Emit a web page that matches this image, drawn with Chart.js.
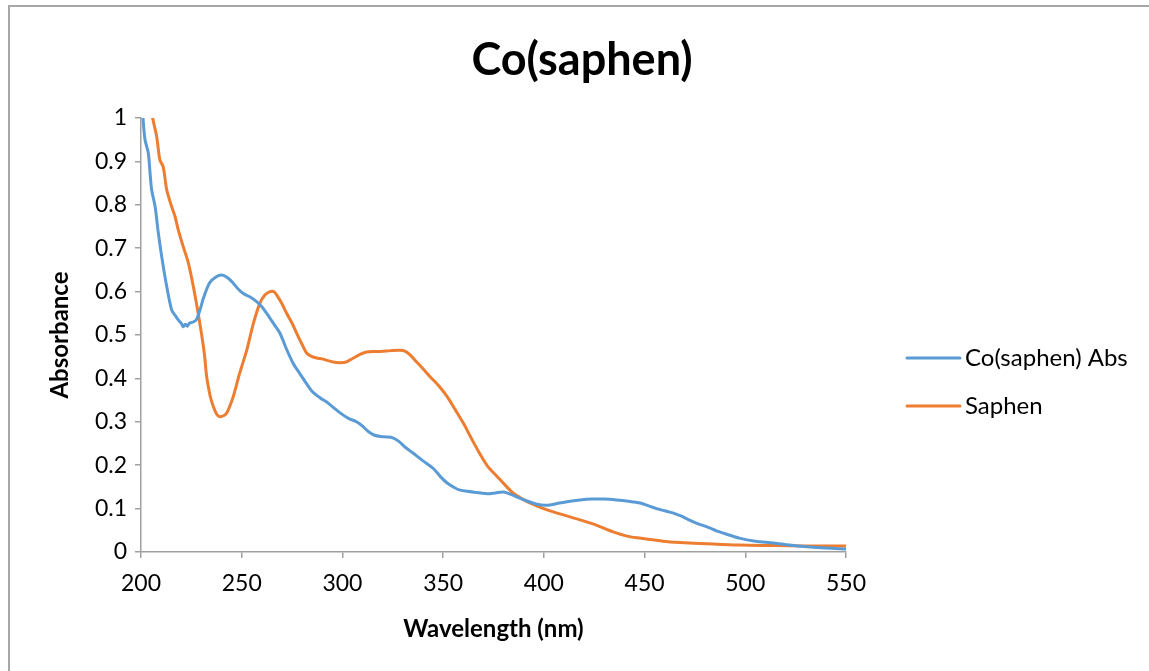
<!DOCTYPE html>
<html>
<head>
<meta charset="utf-8">
<script src="https://cdn.jsdelivr.net/npm/chart.js@4.4.0/dist/chart.umd.min.js"></script>
<style>
  html, body { margin: 0; padding: 0; background: #fff; }
  #wrap { position: relative; width: 1149px; height: 671px; overflow: hidden; }
  #frame { position: absolute; left: 8px; top: 5px; right: -10px; bottom: -10px; border-top: 2px solid #a6a6a6; border-left: 2px solid #a6a6a6; }
  canvas { position: absolute; left: 0; top: 0; }
</style>
</head>
<body>
<div id="wrap">
  <div id="frame"></div>
  <canvas id="uvChart" width="1149" height="671"></canvas>
</div>
<script>
var chartTitle = 'Co(saphen)';
var xTitle = 'Wavelength (nm)';
var yTitle = 'Absorbance';
var seriesNames = ['Co(saphen) Abs', 'Saphen'];
var seriesColors = ['#5B9BD5', '#ED7D31'];

var coNm = [200.6, 201, 202, 203.6, 204.5, 205.3, 207, 208.6, 210.3, 212.8, 215.2, 217, 218.5, 220, 221, 222, 223, 224, 226, 227.5,
  229.3, 231, 234, 237, 240, 243, 245.7, 248, 250.6, 254, 257.4, 260, 262.4, 266, 269, 272, 275.5, 279, 282, 285,
  289, 292, 295, 299, 303, 307, 310, 313, 316, 319, 322, 325, 328, 331, 335, 340, 345, 349, 352, 355,
  358, 362, 367, 372, 376, 380, 384, 388, 392, 396.6, 401.6, 406, 411.5, 418, 424, 430, 436, 442, 447.8, 451,
  456, 460, 464, 468, 472, 476, 481, 486, 490, 497, 505, 514, 522, 530.7, 540, 550];
var coAbs = [1.05, 1.0, 0.95, 0.92, 0.873, 0.834, 0.796, 0.735, 0.68, 0.611, 0.558, 0.545, 0.535, 0.527, 0.519, 0.525, 0.52, 0.527, 0.53, 0.535,
  0.558, 0.585, 0.62, 0.633, 0.638, 0.632, 0.62, 0.607, 0.596, 0.588, 0.577, 0.565, 0.55, 0.525, 0.504, 0.47, 0.435, 0.41, 0.389, 0.37,
  0.355, 0.346, 0.335, 0.32, 0.308, 0.3, 0.29, 0.277, 0.269, 0.266, 0.265, 0.263, 0.255, 0.242, 0.228, 0.21, 0.193, 0.172, 0.159, 0.15,
  0.143, 0.14, 0.137, 0.134, 0.136, 0.138, 0.132, 0.124, 0.117, 0.11, 0.108, 0.111, 0.116, 0.12, 0.122, 0.122, 0.12, 0.117, 0.113, 0.108,
  0.1, 0.095, 0.09, 0.083, 0.074, 0.066, 0.058, 0.048, 0.042, 0.032, 0.025, 0.021, 0.016, 0.012, 0.009, 0.007];

var saphenNm = [205, 205.8, 207.8, 209.4, 211, 212.8, 215.2, 216.9, 218.5, 221, 223.5, 226, 228, 230, 231.5, 232.6, 234.3, 235.9, 237.5, 239,
  241, 242.5, 244, 245.8, 249, 252.5, 255.8, 259, 261.5, 264, 266, 267.4, 270, 272.3, 275, 277.3, 280, 282.3, 285, 287.2,
  290, 292, 296, 298.8, 302, 305.5, 309, 312, 316, 319, 324, 328.6, 331, 333.6, 337, 340, 343.5, 348, 352, 356,
  360, 364, 368, 372, 376.8, 381, 384.7, 389, 393, 397, 401.6, 410, 418, 426, 434, 442, 451, 459, 467.6, 481,
  497, 514, 530, 550];
var saphenAbs = [1.03, 1.0, 0.957, 0.903, 0.888, 0.834, 0.796, 0.773, 0.742, 0.703, 0.666, 0.611, 0.56, 0.504, 0.455, 0.404, 0.36, 0.335, 0.318, 0.312,
  0.314, 0.32, 0.335, 0.358, 0.412, 0.465, 0.527, 0.573, 0.592, 0.6, 0.6, 0.592, 0.572, 0.55, 0.527, 0.504, 0.478, 0.458, 0.45, 0.447,
  0.445, 0.442, 0.437, 0.436, 0.438, 0.447, 0.456, 0.461, 0.462, 0.462, 0.464, 0.465, 0.463, 0.454, 0.437, 0.422, 0.404, 0.382, 0.358, 0.328,
  0.297, 0.262, 0.228, 0.198, 0.174, 0.153, 0.136, 0.123, 0.113, 0.105, 0.097, 0.085, 0.074, 0.062, 0.047, 0.036, 0.03, 0.025, 0.022, 0.019,
  0.016, 0.015, 0.014, 0.014];

var FONT = 'Lato, "Open Sans", sans-serif';
var axisGray = '#a0a0a0';

function pts(xs, ys) {
  return xs.map(function(x, i){ return { x: x, y: ys[i] }; });
}

// title + legend drawn at fixed spots, like the spreadsheet layout
var sideBits = {
  id: 'sideBits',
  afterDraw: function(chart) {
    var ctx = chart.ctx;
    var rows = [358, 406];
    ctx.save();
    ctx.fillStyle = '#000';
    ctx.font = 'bold 45px ' + FONT;
    ctx.textAlign = 'center';
    ctx.textBaseline = 'middle';
    ctx.fillText(chartTitle, 582, 60);
    ctx.textAlign = 'left';
    chart.data.datasets.forEach(function(ds, i){
      var y = rows[i];
      ctx.strokeStyle = ds.borderColor;
      ctx.lineWidth = 3;
      ctx.lineCap = 'round';
      ctx.beginPath();
      ctx.moveTo(907, y);
      ctx.lineTo(960, y);
      ctx.stroke();
      ctx.fillStyle = '#000';
      ctx.font = '24px ' + FONT;
      ctx.fillText(ds.label, 965, y);
    });
    ctx.restore();
  }
};

new Chart(document.getElementById('uvChart'), {
  type: 'line',
  data: {
    datasets: [
      { label: seriesNames[0], data: pts(coNm, coAbs), borderColor: seriesColors[0], backgroundColor: seriesColors[0],
        borderWidth: 3, pointRadius: 0, tension: 0.3, fill: false, clip: 0 },
      { label: seriesNames[1], data: pts(saphenNm, saphenAbs), borderColor: seriesColors[1], backgroundColor: seriesColors[1],
        borderWidth: 3, pointRadius: 0, tension: 0.3, fill: false, clip: 0 }
    ]
  },
  options: {
    responsive: false,
    animation: false,
    layout: { padding: { left: 46, right: 303, top: 118, bottom: 27 } },
    plugins: {
      legend: { display: false },
      tooltip: { enabled: false },
      title: { display: false }
    },
    scales: {
      x: {
        type: 'linear',
        min: 200, max: 550,
        ticks: { stepSize: 50, color: '#000', font: { family: FONT, size: 23 }, padding: 12, maxRotation: 0 },
        grid: { drawOnChartArea: false, drawTicks: true, tickLength: 6, color: axisGray, lineWidth: 1.5 },
        border: { color: axisGray, width: 1.5 },
        title: { display: true, text: xTitle, color: '#000', font: { family: FONT, size: 24, weight: 'bold' }, padding: 0 },
        afterFit: function(s){ s.height = 92; }
      },
      y: {
        min: 0, max: 1,
        ticks: { stepSize: 0.1, color: '#000', font: { family: FONT, size: 23 }, padding: 8,
          callback: function(v){ return String(Math.round(v * 10) / 10); } },
        grid: { drawOnChartArea: false, drawTicks: true, tickLength: 6, color: axisGray, lineWidth: 1.5 },
        border: { color: axisGray, width: 1.5 },
        title: { display: true, text: yTitle, color: '#000', font: { family: FONT, size: 24, weight: 'bold' }, padding: 0 },
        afterFit: function(s){ s.width = 95; }
      }
    }
  },
  plugins: [sideBits]
});
</script>
</body>
</html>
